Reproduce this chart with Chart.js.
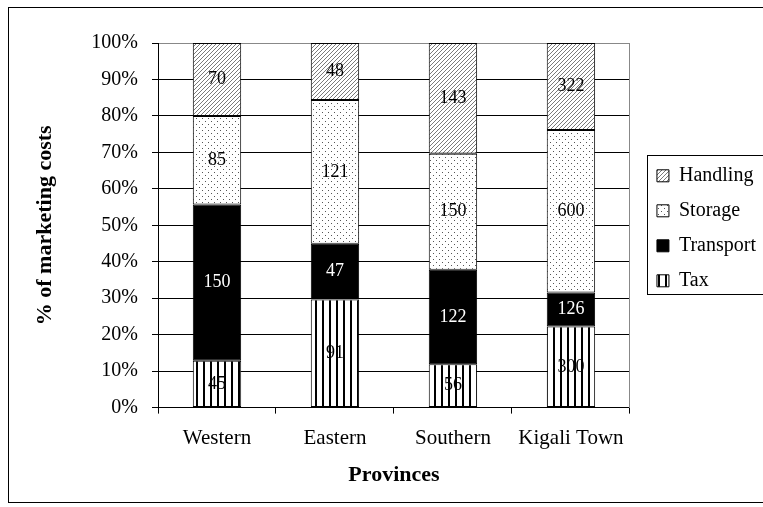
<!DOCTYPE html>
<html>
<head>
<meta charset="utf-8">
<script src="https://cdn.jsdelivr.net/npm/chart.js@4.4.0/dist/chart.umd.min.js"></script>
<style>
  body { margin: 0; background: #fff; overflow: hidden; }
  #wrap { position: relative; width: 763px; height: 507px; overflow: hidden; }
  #frame { position: absolute; left: 8px; top: 7px; width: 820px; height: 494px; border: 1px solid #000; }
  #box { position: absolute; left: 0; top: 0; width: 800px; height: 507px; }
</style>
</head>
<body>
<div id="wrap">
  <div id="frame"></div>
  <div id="box"><canvas id="myChart" width="800" height="507"></canvas></div>
</div>
<script>
var provinces = ["Western", "Eastern", "Southern", "Kigali Town"];
var tax = [45, 91, 56, 300];
var transport = [150, 47, 122, 126];
var storage = [85, 121, 150, 600];
var handling = [70, 48, 143, 322];

var serif = '"Liberation Serif", "Times New Roman", serif';

// small tiles for the fill patterns
function makePattern(w, h, draw) {
  var c = document.createElement("canvas");
  c.width = w; c.height = h;
  var g = c.getContext("2d");
  g.fillStyle = "#fff";
  g.fillRect(0, 0, w, h);
  draw(g);
  return c.getContext("2d").createPattern(c, "repeat");
}
var hatch = makePattern(4, 4, function (g) {
  g.fillStyle = "#7a7a7a";
  for (var i = 0; i < 4; i++) g.fillRect(i, 3 - i, 1, 1);
});
var dots = makePattern(6, 6, function (g) {
  g.fillStyle = "#555";
  g.fillRect(1, 1, 1, 1);
  g.fillRect(4, 4, 1, 1);
});
var stripes = makePattern(7, 4, function (g) {
  g.fillStyle = "#000";
  g.fillRect(0, 0, 2, 4);
});

function pct(arr) {
  return arr.map(function (v, i) {
    var total = tax[i] + transport[i] + storage[i] + handling[i];
    return v / total * 100;
  });
}

var series = [
  { label: "Tax", raw: tax, fill: stripes, text: "#000" },
  { label: "Transport", raw: transport, fill: "#000", text: "#fff" },
  { label: "Storage", raw: storage, fill: dots, text: "#000" },
  { label: "Handling", raw: handling, fill: hatch, text: "#000" }
];

var valueLabels = {
  id: "valueLabels",
  afterDatasetsDraw: function (chart) {
    var ctx = chart.ctx;
    ctx.save();
    ctx.font = "18px " + serif;
    ctx.textAlign = "center";
    ctx.textBaseline = "middle";
    series.forEach(function (s, i) {
      chart.getDatasetMeta(i).data.forEach(function (bar, j) {
        ctx.fillStyle = s.text;
        ctx.fillText(s.raw[j], bar.x, (bar.y + bar.base) / 2);
      });
    });
    ctx.restore();
  }
};

// box round the legend
var legendBox = {
  id: "legendBox",
  afterDraw: function (chart) {
    var boxes = chart.legend.legendHitBoxes;
    if (!boxes || !boxes.length) return;
    var ctx = chart.ctx;
    var l = Infinity, t = Infinity, b = -Infinity;
    boxes.forEach(function (h) {
      l = Math.min(l, h.left); t = Math.min(t, h.top);
      b = Math.max(b, h.top + h.height);
    });
    ctx.save();
    ctx.strokeStyle = "#000";
    ctx.lineWidth = 1;
    ctx.strokeRect(Math.round(l - 10) + 0.5, Math.round(t - 11) + 0.5, 200, Math.round(b - t + 14));
    ctx.restore();
  }
};

const ctx = document.getElementById("myChart");

new Chart(ctx, {
  type: "bar",
  data: {
    labels: provinces,
    datasets: series.map(function (s) {
      return {
        label: s.label,
        data: pct(s.raw),
        backgroundColor: s.fill,
        borderColor: "#000",
        borderWidth: 1,
        borderSkipped: false,
        barPercentage: 0.41,
        categoryPercentage: 1
      };
    })
  },
  options: {
    responsive: false,
    animation: false,
    devicePixelRatio: 1,
    layout: { padding: { top: 43, left: 20, right: 34, bottom: 18 } },
    plugins: {
      tooltip: { enabled: false },
      legend: {
        position: "right",
        fullSize: false,
        reverse: true,
        // empty title only nudges the items down a little
        title: { display: true, text: "", font: { size: 6, lineHeight: 1 }, padding: 0 },
        labels: {
          color: "#000",
          font: { family: serif, size: 20 },
          boxWidth: 12,
          boxHeight: 12,
          padding: 15
        }
      }
    },
    scales: {
      x: {
        stacked: true,
        offset: true,
        grid: { offset: true, drawOnChartArea: false, drawTicks: true, tickLength: 6, color: "#000" },
        border: { color: "#000" },
        ticks: { color: "#000", font: { family: serif, size: 21, lineHeight: 1 }, padding: 14 },
        title: { display: true, text: "Provinces", color: "#000", font: { family: serif, size: 22, weight: "bold" }, padding: { top: 0, bottom: 0 } }
      },
      y: {
        stacked: true,
        min: 0,
        max: 100,
        afterFit: function (axis) { axis.width = 138; },
        ticks: {
          stepSize: 10,
          color: "#000",
          font: { family: serif, size: 20 },
          padding: 14,
          callback: function (v) { return v + "%"; }
        },
        grid: {
          color: function (c) { return c.tick && c.tick.value === 100 ? "#888" : "#000"; },
          tickColor: "#000",
          tickLength: 6
        },
        border: { color: "#000" },
        title: { display: true, text: "% of marketing costs", color: "#000", font: { family: serif, size: 22, weight: "bold" }, padding: { top: 12, bottom: 10 } }
      },
      // empty right axis: gray frame edge and the gap before the legend
      yRight: {
        position: "right",
        min: 0,
        max: 100,
        ticks: { display: false },
        grid: { drawOnChartArea: false, drawTicks: true, tickLength: 12, tickColor: "rgba(0,0,0,0)" },
        border: { color: "#888" }
      }
    }
  },
  plugins: [valueLabels, legendBox]
});
</script>
</body>
</html>
